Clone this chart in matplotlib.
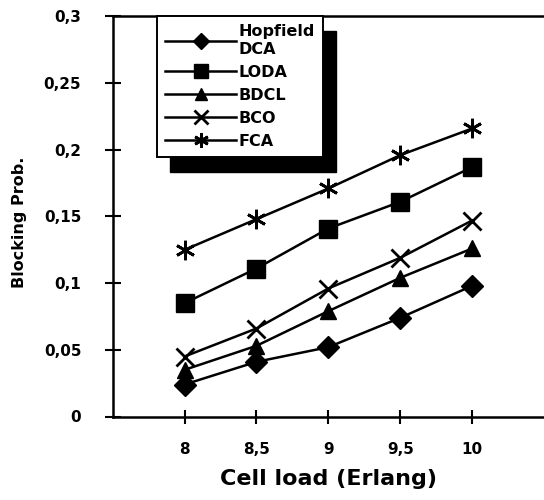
import matplotlib
matplotlib.use("Agg")
import matplotlib.pyplot as plt
from matplotlib.patches import Rectangle

# Cell load (Erlang)
load = [8, 8.5, 9, 9.5, 10]

hopfield = [0.024, 0.041, 0.052, 0.074, 0.098]
loda = [0.085, 0.111, 0.141, 0.161, 0.187]
bdcl = [0.035, 0.053, 0.079, 0.104, 0.126]
bco = [0.045, 0.066, 0.096, 0.119, 0.147]
fca = [0.125, 0.148, 0.171, 0.196, 0.216]

series_names = ["Hopfield\nDCA", "LODA", "BDCL", "BCO", "FCA"]
x_ticklabels = ["8", "8,5", "9", "9,5", "10"]
y_ticks = [0, 0.05, 0.1, 0.15, 0.2, 0.25, 0.3]
y_ticklabels = ["0", "0,05", "0,1", "0,15", "0,2", "0,25", "0,3"]

plt.rcParams["font.family"] = "DejaVu Sans"
plt.rcParams["font.weight"] = "bold"

fig = plt.figure(figsize=(5.44, 5.0), dpi=100)
ax = fig.add_axes([0.207, 0.167, 0.793, 0.8])

styles = [
    dict(marker="D", ms=11),
    dict(marker="s", ms=13),
    dict(marker="^", ms=12),
    dict(marker="x", ms=13, mew=2),
    dict(marker=(6, 2, 0), ms=14, mew=2),
]
for ys, name, st in zip([hopfield, loda, bdcl, bco, fca], series_names, styles):
    ax.plot(load, ys, color="black", lw=1.8, mfc="black", mec="black",
            label=name, clip_on=False, **st)

ax.set_xlim(7.5, 10.5)
ax.set_ylim(0, 0.3)
ax.set_xticks(load)
ax.set_xticklabels(x_ticklabels, fontsize=11, fontweight="bold")
ax.set_yticks(y_ticks)
ax.set_yticklabels(y_ticklabels, fontsize=11, fontweight="bold")
ax.tick_params(axis="y", direction="inout", length=11, width=1.5, pad=17)
ax.tick_params(axis="x", direction="inout", length=10, width=1.5, pad=13)

ax.spines["right"].set_visible(False)
for s in ["left", "bottom", "top"]:
    ax.spines[s].set_linewidth(1.8)

ax.set_xlabel("Cell load (Erlang)", fontsize=16, fontweight="bold", labelpad=9)
ax.set_ylabel("Blocking Prob.", fontsize=11.5, fontweight="bold")
ax.yaxis.set_label_coords(-0.198, 0.485)

leg = ax.legend(loc="upper left", bbox_to_anchor=(0.102, 1.0), borderaxespad=0,
                fancybox=False, framealpha=1, edgecolor="black",
                handlelength=4.5, labelspacing=0.5, handletextpad=0.15,
                borderpad=0.5, prop=dict(size=11.5, weight="bold"), markerscale=0.75)
leg.get_frame().set_linewidth(1.4)
leg.set_zorder(5)

# heavy drop shadow behind the legend box
fig.canvas.draw()
bb = leg.get_window_extent()
shadow = Rectangle((bb.x0 + 13, bb.y0 - 15), bb.width, bb.height,
                   transform=None, facecolor="black", edgecolor="black", zorder=4)
ax.add_artist(shadow)

fig.savefig("out.png", dpi=100)
